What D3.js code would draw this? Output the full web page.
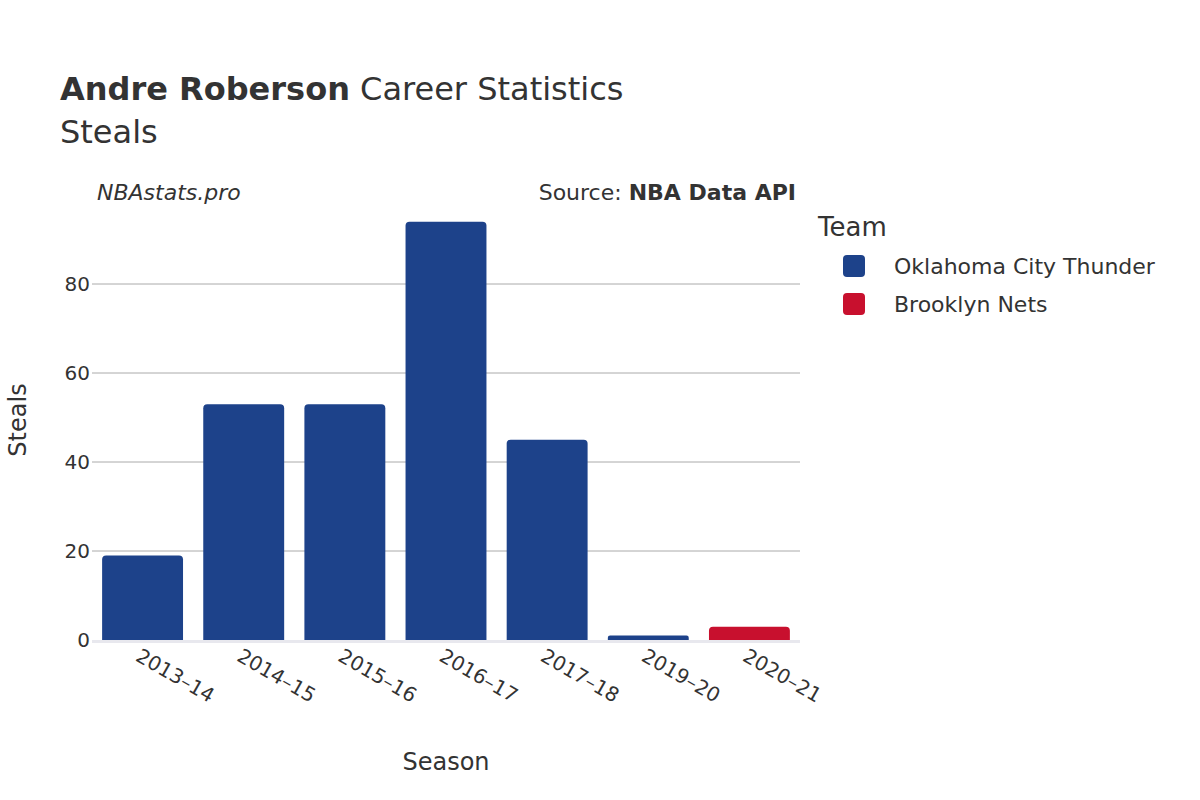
<!DOCTYPE html>
<html><head><meta charset="utf-8">
<script src="https://cdn.jsdelivr.net/npm/d3@7"></script>
<style>body{margin:0;background:#fff;font-family:"DejaVu Sans",sans-serif;}</style>
</head><body><div id="chart"></div>
<script>
const seasons = ['2013–14','2014–15','2015–16','2016–17','2017–18','2019–20','2020–21'];
const steals = [19, 53, 53, 94, 45, 1, 3];
const teams = ['OKC','OKC','OKC','OKC','OKC','OKC','BKN'];
const teamNames = ['Oklahoma City Thunder','Brooklyn Nets'];
const teamColors = {OKC:'#1d428a', BKN:'#c8102e'};
const yTicks = [0,20,40,60,80];

const W = 1200, H = 800;
const m = {left:92, right:800, top:210, bottom:640};
const svg = d3.select('#chart').append('svg').attr('width',W).attr('height',H);

const x = d3.scaleBand().domain(seasons).range([m.left,m.right]).paddingInner(0.2).paddingOuter(0.1);
const y = d3.scaleLinear().domain([0,100]).range([m.bottom, m.bottom - 100*4.45]);

// grid
svg.append('g').selectAll('line').data(yTicks.slice(1)).join('line')
  .attr('x1',m.left).attr('x2',m.right).attr('y1',d=>y(d)).attr('y2',d=>y(d))
  .attr('stroke','#aaa').attr('stroke-width',1);
svg.append('line').attr('x1',m.left).attr('x2',m.right).attr('y1',y(0)+1.5).attr('y2',y(0)+1.5)
  .attr('stroke','#e8e8ee').attr('stroke-width',3);

// bars with rounded tops
svg.append('g').selectAll('path').data(seasons).join('path')
  .attr('fill',(d,i)=>teamColors[teams[i]])
  .attr('d',(d,i)=>{
    const x0 = x(d), w = x.bandwidth(), yt = y(steals[i]), yb = y(0);
    const r = Math.min(4, (yb-yt)/2);
    return `M${x0},${yb}V${yt+r}Q${x0},${yt} ${x0+r},${yt}H${x0+w-r}Q${x0+w},${yt} ${x0+w},${yt+r}V${yb}Z`;
  });

// y tick labels
svg.append('g').selectAll('text').data(yTicks).join('text')
  .attr('x',m.left-2).attr('y',d=>y(d)+7).attr('text-anchor','end')
  .attr('font-size',20).attr('fill','#333').text(d=>d);

// x tick labels
svg.append('g').selectAll('text').data(seasons).join('text')
  .attr('transform',d=>`translate(${x(d)+x.bandwidth()/2-8},${m.bottom+20}) rotate(30)`)
  .attr('font-size',20).attr('fill','#333').text(d=>d);

// axis titles
svg.append('text').attr('x',446).attr('y',770).attr('text-anchor','middle')
  .attr('font-size',24).attr('fill','#333').text('Season');
svg.append('text').attr('transform','translate(26,420) rotate(-90)').attr('text-anchor','middle')
  .attr('font-size',24).attr('fill','#333').text('Steals');

// titles
const t = svg.append('text').attr('x',60).attr('y',100).attr('font-size',32).attr('fill','#333');
t.append('tspan').attr('font-weight','bold').text('Andre Roberson');
t.append('tspan').text(' Career Statistics');
svg.append('text').attr('x',60).attr('y',143).attr('font-size',32).attr('fill','#333').text('Steals');
svg.append('text').attr('x',97).attr('y',200).attr('font-size',22).attr('font-style','italic')
  .attr('fill','#333').text('NBAstats.pro');
const s = svg.append('text').attr('x',796).attr('y',200).attr('text-anchor','end').attr('font-size',22).attr('fill','#333');
s.append('tspan').text('Source: ');
s.append('tspan').attr('font-weight','bold').text('NBA Data API');

// legend
svg.append('text').attr('x',818).attr('y',236).attr('font-size',26).attr('fill','#333').text('Team');
const lg = svg.append('g').selectAll('g').data(teamNames).join('g')
  .attr('transform',(d,i)=>`translate(843,${266+i*38})`);
lg.append('rect').attr('x',0).attr('y',-11).attr('width',22).attr('height',22).attr('rx',4)
  .attr('fill',(d,i)=>Object.values(teamColors)[i]);
lg.append('text').attr('x',51).attr('y',8).attr('font-size',22).attr('fill','#333').text(d=>d);
</script></body></html>
